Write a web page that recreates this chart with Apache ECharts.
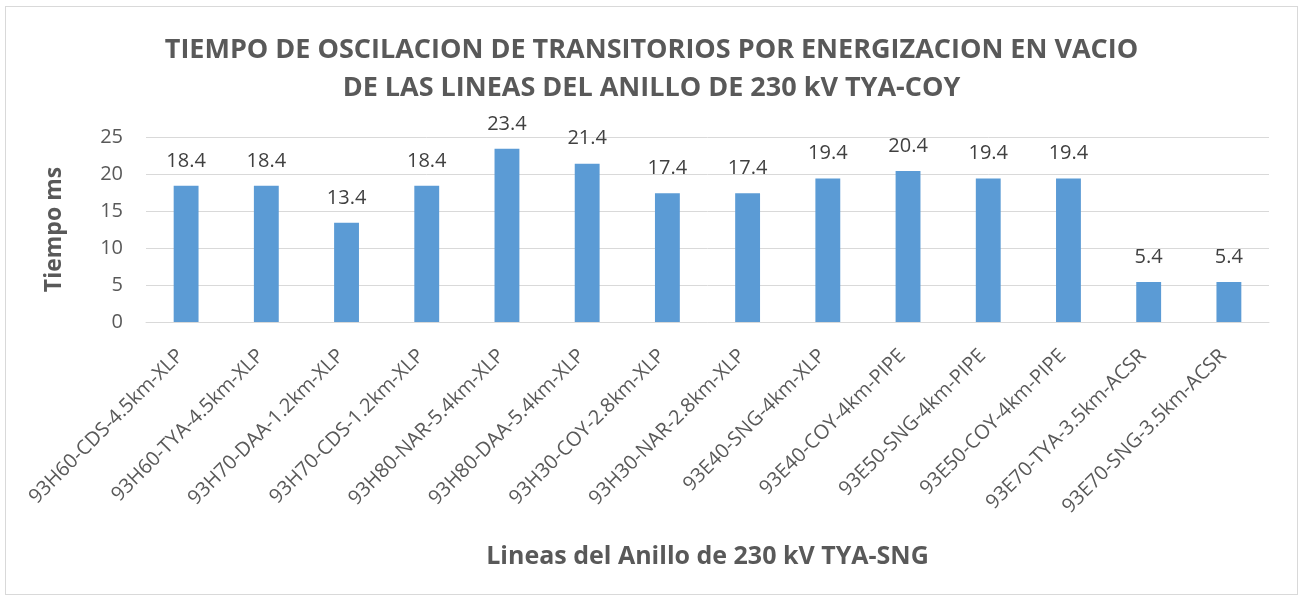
<!DOCTYPE html>
<html>
<head>
<meta charset="utf-8">
<script src="https://cdn.jsdelivr.net/npm/echarts@6/dist/echarts.min.js"></script>
<style>
  html, body { margin: 0; padding: 0; background: #fff; }
  #frame { position: absolute; left: 5px; top: 6px; width: 1293px; height: 589px; border: 1px solid #d9d9d9; box-sizing: border-box; }
  #chart { width: 1303px; height: 600px; }
</style>
</head>
<body>
<div id="frame"></div>
<div id="chart"></div>
<script>
const categories = [
  '93H60-CDS-4.5km-XLP', '93H60-TYA-4.5km-XLP', '93H70-DAA-1.2km-XLP', '93H70-CDS-1.2km-XLP',
  '93H80-NAR-5.4km-XLP', '93H80-DAA-5.4km-XLP', '93H30-COY-2.8km-XLP', '93H30-NAR-2.8km-XLP',
  '93E40-SNG-4km-XLP', '93E40-COY-4km-PIPE', '93E50-SNG-4km-PIPE', '93E50-COY-4km-PIPE',
  '93E70-TYA-3.5km-ACSR', '93E70-SNG-3.5km-ACSR'
];
const tiempoMs = [18.4, 18.4, 13.4, 18.4, 23.4, 21.4, 17.4, 17.4, 19.4, 20.4, 19.4, 19.4, 5.4, 5.4];
const yTicks = { min: 0, max: 25, interval: 5 };

const font = '"Open Sans", "Noto Sans", sans-serif';
const chart = echarts.init(document.getElementById('chart'));
chart.setOption({
  animation: false,
  title: {
    text: 'TIEMPO DE OSCILACION DE TRANSITORIOS POR ENERGIZACION EN VACIO\nDE LAS LINEAS DEL ANILLO DE 230 kV TYA-COY',
    left: 'center',
    top: 26,
    textStyle: { fontFamily: font, fontWeight: 'bold', fontSize: 27, color: '#595959', lineHeight: 38 }
  },
  grid: { left: 146, right: 34, top: 137, bottom: 278 },
  xAxis: {
    type: 'category',
    data: categories,
    name: 'Lineas del Anillo de 230 kV TYA-SNG',
    nameLocation: 'middle',
    nameGap: 222,
    nameTextStyle: { fontFamily: font, fontWeight: 'bold', fontSize: 25, color: '#595959' },
    axisLine: { lineStyle: { color: '#d9d9d9', width: 1 } },
    axisTick: { show: false },
    axisLabel: { rotate: 45, interval: 0, margin: 25, padding: [0, 8, 0, 0], fontFamily: font, fontSize: 20, color: '#595959' }
  },
  yAxis: {
    type: 'value',
    min: yTicks.min, max: yTicks.max, interval: yTicks.interval,
    name: 'Tiempo ms',
    nameLocation: 'middle',
    nameGap: 80,
    nameTextStyle: { fontFamily: font, fontWeight: 'bold', fontSize: 23, color: '#595959' },
    axisLine: { show: false },
    axisTick: { show: false },
    axisLabel: { margin: 23, fontFamily: font, fontSize: 20, color: '#595959' },
    splitLine: { lineStyle: { color: '#d9d9d9', width: 1 } }
  },
  series: [{
    type: 'bar',
    data: tiempoMs,
    barWidth: '31%',
    itemStyle: { color: '#5b9bd5' },
    label: {
      show: true, position: 'top', distance: 15,
      fontFamily: font, fontSize: 20, color: '#404040',
      formatter: p => p.value.toFixed(1)
    }
  }]
});
</script>
</body>
</html>
